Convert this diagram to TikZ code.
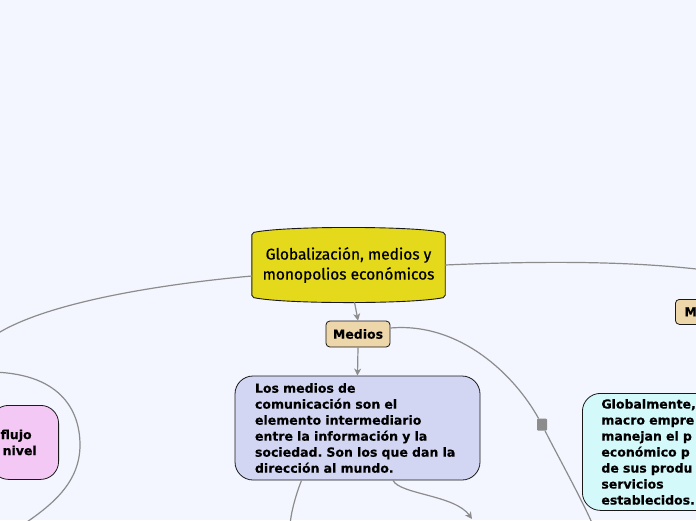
\documentclass[tikz,border=0pt]{standalone}
\usepackage{fontspec}
\setmainfont{DejaVu Sans}[BoldFeatures={FakeBold=0.35}]
\newfontfamily\titlefont{Fira Sans}[FakeBold=0.6]
\usepackage{tikz}
\usetikzlibrary{arrows.meta, positioning, backgrounds}
\frenchspacing

\definecolor{canvas}{RGB}{243,246,255}
\definecolor{rootcol}{RGB}{229,217,28}
\definecolor{topiccol}{RGB}{236,214,170}
\definecolor{infocol}{RGB}{210,214,242}
\definecolor{globalcol}{RGB}{212,249,251}
\definecolor{flujocol}{RGB}{244,200,244}
\definecolor{linkcol}{RGB}{140,140,140}
\definecolor{edgecol}{RGB}{25,25,25}

\begin{document}
\begin{tikzpicture}[
    x=1pt, y=-1pt,
    >={Stealth[length=7pt, width=7pt, inset=2pt]},
    bodyfont/.style={font=\bfseries\fontsize{12.5}{16}\selectfont},
    rootnode/.style={minimum width=193pt, minimum height=64pt, inner sep=0pt, align=center, font=\titlefont\fontsize{15.5}{20}\selectfont},
    rootshape/.style={draw=edgecol, fill=rootcol, line width=0.9pt, rounded corners=2pt},
    topic/.style={bodyfont, draw=edgecol, fill=topiccol, rounded corners=4pt, line width=0.8pt, inner xsep=7pt, minimum width=64pt, minimum height=26pt},
    infobox/.style={bodyfont, draw=edgecol, rounded corners=18pt, line width=0.8pt, align=left},
    marker/.style={fill=linkcol, rounded corners=1pt, minimum width=10pt, minimum height=12pt, inner sep=0pt},
    link/.style={draw=linkcol, line width=1.2pt},
    arrow/.style={->, link}
]

\useasboundingbox (0,0) rectangle (696,520);
\clip (0,0) rectangle (696,520);

% Nodes
\node[rootnode] (root) at (348.5,265) {Globalización, medios y\\monopolios económicos};

\node[topic] (medios) at (358,334) {Medios};
\node[topic, anchor=north west, text width=60pt, inner xsep=9pt, minimum height=25pt, align=left] (monop) at (675,299) {Me};

\node[infobox, fill=infocol, text width=205pt, inner xsep=20pt, minimum height=104pt] (info) at (357.5,428)
  {Los medios de\\comunicación son el\\elemento intermediario\\entre la información y la\\sociedad. Son los que dan la\\dirección al mundo.};

\node[infobox, fill=globalcol, anchor=north west, text width=180pt, inner xsep=19pt, minimum height=117pt] (global) at (582,393)
  {Globalmente,\\macro empre\\manejan el p\\económico p\\de sus produ\\servicios\\establecidos.};

\node[infobox, fill=flujocol, anchor=north east, text width=48pt, inner xsep=10pt, minimum height=74pt] (flujo) at (59,405)
  {flujo\\\hspace*{2pt}nivel};

\node[marker] (fold) at (542,424.7) {};

% free ends outside the frame
\coordinate (leftend) at (-12,340);
\coordinate (rightend) at (720,272);
\coordinate (loopin) at (-12,372);
\coordinate (loopout) at (18,528);
\coordinate (infoleft) at (290,528);
\coordinate (inforight) at (472,519);
\coordinate (medchild) at (595,530);

% Central shape
\begin{scope}[on background layer]
  \fill[canvas] (0,0) rectangle (696,520);
  \draw[rootshape] (root.north west) .. controls +(33,-7) and +(-33,-7) .. (root.north east)
    -- (root.south east) .. controls +(-33,7) and +(33,7) .. (root.south west) -- cycle;
\end{scope}

% Connectors
\draw[arrow] ([xshift=6pt, yshift=-5pt]root.south) -- (medios.north);
\draw[arrow] (medios.south) -- (info.north);
\draw[link] ([yshift=-11pt]root.west) .. controls +(-100,9) and +(45,-35) .. (leftend);
\draw[link] (root.east) .. controls +(115,-5) and +(-70,-10) .. (rightend);
\draw[link] (loopin) .. controls +(72,0) and +(0,-35) .. (80,445) .. controls +(0,40) and +(30,-20) .. (loopout);
\draw[link] ([xshift=-56pt]info.south) .. controls +(-4,10) and +(0,-15) .. (infoleft);
\draw[arrow] ([xshift=35.5pt]info.south) .. controls +(7,14) and +(-17,-24) .. (inforight);
\draw[link] ([yshift=6pt]medios.east) .. controls +(70,-6) and +(-27,-49) .. (fold);
\draw[link] (fold) .. controls +(14,28) and +(-10,-25) .. (medchild);

\end{tikzpicture}
\end{document}
